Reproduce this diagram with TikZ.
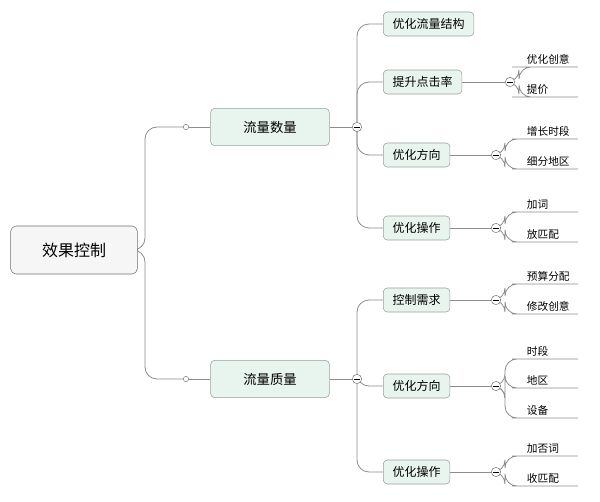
\documentclass[tikz,border=0pt]{standalone}
\usepackage{fontspec}
\newfontfamily\cjk{Noto Sans CJK SC}
\pgfdeclarelayer{background}
\pgfsetlayers{background,main}
\begin{document}
\begin{tikzpicture}[x=0.75pt,y=0.75pt,yscale=-1,xscale=1,
  box/.style={draw={rgb,255:red,150;green,160;blue,155},fill={rgb,255:red,232;green,245;blue,238},rounded corners=3pt,inner xsep=7pt,minimum height=18pt,font=\cjk\small},
  bigbox/.style={box,minimum width=89pt,minimum height=28pt,font=\cjk\normalsize},
  rootbox/.style={draw={rgb,255:red,110;green,110;blue,110},fill={rgb,255:red,246;green,246;blue,246},rounded corners=4pt,minimum width=95pt,minimum height=36pt,font=\cjk\large},
  leaf/.style={anchor=south west,text width=36pt,inner xsep=2pt,inner ysep=2pt,font=\cjk\footnotesize},
  link/.style={draw={rgb,255:red,140;green,140;blue,140},line width=0.6pt,rounded corners=9pt},
  fold/.style={circle,draw={rgb,255:red,120;green,120;blue,120},fill=white,minimum size=7pt,inner sep=0pt,
    path picture={\draw[black,line width=0.5pt] ([xshift=-2pt]path picture bounding box.center) -- ([xshift=2pt]path picture bounding box.center);}},
  knot/.style={circle,draw={rgb,255:red,120;green,120;blue,120},fill=white,minimum size=4pt,inner sep=0pt}]
\useasboundingbox (0,0) rectangle (600,502);

% root and first level
\node[rootbox] (root) at (74,250) {效果控制};
\node[bigbox] (qty) at (270,127) {流量数量};
\node[bigbox] (qly) at (270,379) {流量质量};
\node[knot] (kq) at (186,127) {};
\node[knot] (kl) at (186,379) {};
\node[fold] (fq) at (357,127) {};
\node[fold] (fl) at (357,379) {};

% second level
\node[box,anchor=west] (a1) at (383,24) {优化流量结构};
\node[box,anchor=west] (a2) at (383,82) {提升点击率};
\node[box,anchor=west] (a3) at (383,155) {优化方向};
\node[box,anchor=west] (a4) at (383,228) {优化操作};
\node[box,anchor=west] (b1) at (383,300) {控制需求};
\node[box,anchor=west] (b2) at (383,386) {优化方向};
\node[box,anchor=west] (b3) at (383,472) {优化操作};
\node[fold] (f2) at (510,82) {};
\node[fold] (f3) at (496,155) {};
\node[fold] (f4) at (496,228) {};
\node[fold] (g1) at (496,300) {};
\node[fold] (g2) at (496,386) {};
\node[fold] (g3) at (496,472) {};

\begin{pgfonlayer}{background}
\draw[link] (root.east) -- (145,250) |- (kq.center);
\draw[link] (root.east) -- (145,250) |- (kl.center);
\draw[link] (kq) -- (qty.west);
\draw[link] (kl) -- (qly.west);
\draw[link] (qty.east) -- (fq.center);
\draw[link] (qly.east) -- (fl.center);
\foreach \n in {a1,a2,a3,a4}
  \draw[link] (fq.center) |- (\n.west);
\draw[link] (fl.center) |- (b1.west);
\foreach \n in {b2,b3}
  \draw[link] (fl.center) |- (\n.west);
\foreach \a/\f in {a2/f2,a3/f3,a4/f4,b1/g1,b2/g2,b3/g3}
  \draw[link] (\a.east) -- (\f.center);
\end{pgfonlayer}

% third level
\foreach \f/\y/\t/\i in {f2/67/优化创意/1,f2/97/提价/2,f3/139/增长时段/3,f3/169/细分地区/4,
    f4/212/加词/5,f4/242/放匹配/6,g1/284/预算分配/7,g1/314/修改创意/8,
    g2/359/时段/9,g2/388/地区/10,g2/418/设备/11,g3/456/加否词/12,g3/486/收匹配/13}{
  \node[leaf] (l\i) at (524,\y) {\t};
  \begin{pgfonlayer}{background}
  \draw[link] (\f.center) -- ++(9,0) |- (l\i.south west) -- (l\i.south east);
  \end{pgfonlayer}
}
\end{tikzpicture}
\end{document}
